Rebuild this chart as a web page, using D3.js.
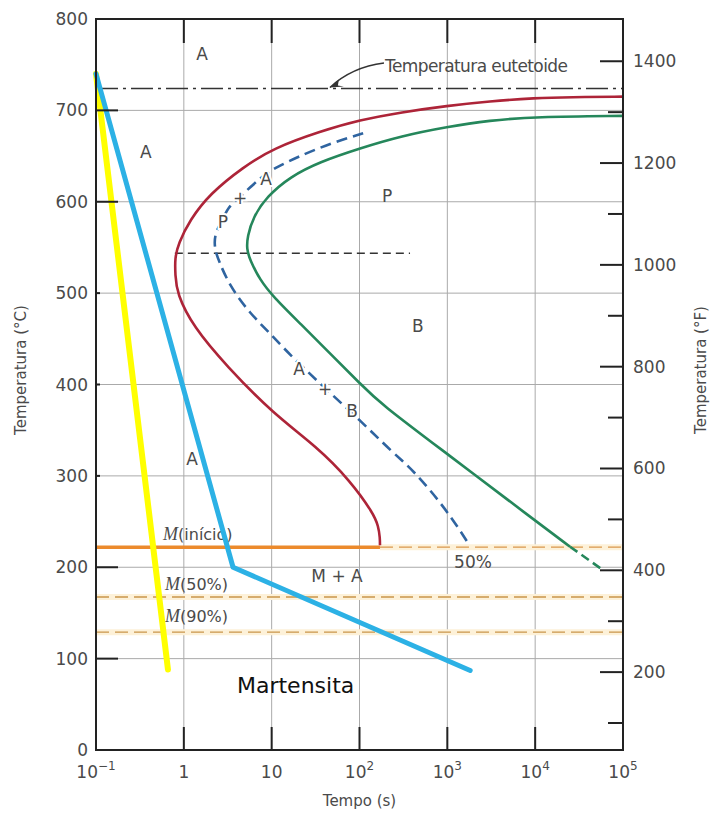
<!DOCTYPE html>
<html>
<head>
<meta charset="utf-8">
<script src="https://cdn.jsdelivr.net/npm/d3@7"></script>
<style>
body { margin: 0; background: #fff; }
text { font-family: "DejaVu Sans", sans-serif; fill: #4a4a4a; }
</style>
</head>
<body>
<svg id="chart" width="711" height="814"></svg>
<script>
// Axis ticks
const xTickExp = [-1, 0, 1, 2, 3, 4, 5];
const yTicksC = [0, 100, 200, 300, 400, 500, 600, 700, 800];
const yTicksLongC = [100, 200, 600, 700];
const yTicksF = [200, 400, 600, 800, 1000, 1200, 1400];
const yMinorF = [100, 300, 500, 700, 900, 1100, 1300];

// Curves: [tempo (s), temperatura (°C)]
const startCurve = [[1e5, 715], [2.5e4, 714.5], [1e4, 713.5], [3e3, 710], [1e3, 705], [300, 698],
  [101, 689.5], [35.5, 677], [10.4, 658.5], [4.75, 638], [1.99, 609], [1.17, 580], [0.865, 554],
  [0.79, 538], [0.8, 520], [0.83, 500], [1.28, 463], [3.08, 420], [10.4, 368], [32.6, 332],
  [78, 295], [144, 259], [164, 245], [171, 232], [171, 224]];
const endCurve = [[1e5, 694], [1e4, 693], [3e3, 689], [1e3, 682], [300, 672], [101, 658.5],
  [35.5, 643.8], [16.2, 627.4], [8.8, 605.5], [6.18, 583.6], [5.28, 561.8], [5.2, 548],
  [5.66, 536.3], [7.36, 514.4], [10.4, 496.1], [21, 467], [50.4, 430.4], [101, 401.3],
  [171, 379.4], [1000, 324], [1e4, 251], [24950, 222.5]];
const endCurveDashed = [[24950, 222.5], [57300, 197.8]];
const halfCurve = [[110, 675], [35.5, 660.2], [10.4, 636.6], [7.36, 625.7], [4.37, 605.5],
  [3.2, 594.6], [2.7, 578.2], [2.26, 565.5], [2.22, 550], [2.47, 536.3], [3.36, 507],
  [5.66, 477.9], [9.57, 456], [15.5, 434.1], [40.5, 395.8], [101, 361.1], [243, 324.7],
  [410, 306.4], [984, 262.7], [1730, 226.2]];

// Reference lines
const eutectoidTemp = 724;
const noseLine = [[0.79, 543.6], [376, 543.6]];
const mStart = 222, m50 = 167.4, m90 = 129;
const mStartEndTime = 171;

// Cooling paths drawn over the diagram
const yellowPath = [[0.1, 740], [0.66, 88]];
const bluePath = [[0.1, 740], [3.63, 200], [1820, 87]];

// Text labels: [texto, tempo, temperatura]
const regionLabels = [["A", 1.61, 755], ["A", 0.37, 648], ["P", 206, 600], ["B", 463, 457.5],
  ["A", 1.24, 312], ["M + A", 55.5, 184], ["50%", 1960, 199]];
const halfLabels = [["A", 8.63, 618.3], ["+", 4.37, 597], ["P", 2.79, 571.3],
  ["A", 20.5, 410.4], ["+", 40.5, 388], ["B", 82.2, 364.4]];
const mLabels = [["(início)", 0.58, 230], ["(50%)", 0.61, 175], ["(90%)", 0.61, 140]];
const martLabel = ["Martensita", 4.03, 62.4];

const svg = d3.select("#chart");
const plotLeft = 96, plotRight = 623, plotTop = 19, plotBottom = 750;

const x = d3.scaleLog().domain([0.1, 1e5]).range([plotLeft, plotRight]);
const y = d3.scaleLinear().domain([0, 800]).range([plotBottom, plotTop]);
const yF = d3.scaleLinear().domain([47, 1483]).range([plotBottom, plotTop]);

const line = d3.line().x(d => x(d[0])).y(d => y(d[1]));
const smooth = d3.line().x(d => x(d[0])).y(d => y(d[1])).curve(d3.curveBasis);

// Grid
svg.append("g").selectAll("line").data(xTickExp.slice(1, -1)).enter().append("line")
  .attr("x1", d => x(Math.pow(10, d))).attr("x2", d => x(Math.pow(10, d)))
  .attr("y1", plotTop).attr("y2", plotBottom).attr("stroke", "#aaa").attr("stroke-width", 1);
svg.append("g").selectAll("line").data(yTicksC.slice(1, -1)).enter().append("line")
  .attr("x1", plotLeft).attr("x2", plotRight).attr("y1", d => y(d)).attr("y2", d => y(d))
  .attr("stroke", "#aaa").attr("stroke-width", 1);

// Eutectoid line
svg.append("line").attr("x1", plotLeft).attr("x2", plotRight)
  .attr("y1", y(eutectoidTemp)).attr("y2", y(eutectoidTemp))
  .attr("stroke", "#333").attr("stroke-width", 1.6).attr("stroke-dasharray", "22,5,3,5");

// Nose dashed line
svg.append("path").attr("d", line(noseLine)).attr("fill", "none")
  .attr("stroke", "#333").attr("stroke-width", 1.6).attr("stroke-dasharray", "8,5");

// Martensite lines
[m50, m90].forEach(t => {
  svg.append("line").attr("x1", plotLeft).attr("x2", plotRight).attr("y1", y(t)).attr("y2", y(t))
    .attr("stroke", "#fdf1d8").attr("stroke-width", 6);
  svg.append("line").attr("x1", plotLeft).attr("x2", plotRight).attr("y1", y(t)).attr("y2", y(t))
    .attr("stroke", "#c9954a").attr("stroke-width", 1.4).attr("stroke-dasharray", "13,6");
});
svg.append("line").attr("x1", x(mStartEndTime)).attr("x2", plotRight).attr("y1", y(mStart)).attr("y2", y(mStart))
  .attr("stroke", "#fdf1d8").attr("stroke-width", 6);
svg.append("line").attr("x1", x(mStartEndTime)).attr("x2", plotRight).attr("y1", y(mStart)).attr("y2", y(mStart))
  .attr("stroke", "#d9974c").attr("stroke-width", 1.4).attr("stroke-dasharray", "13,6");
svg.append("line").attr("x1", plotLeft).attr("x2", x(mStartEndTime)).attr("y1", y(mStart)).attr("y2", y(mStart))
  .attr("stroke", "#ec8a2c").attr("stroke-width", 3.5);

// Transformation curves
svg.append("path").attr("d", smooth(startCurve)).attr("fill", "none")
  .attr("stroke", "#ad2438").attr("stroke-width", 2.6);
svg.append("path").attr("d", smooth(endCurve)).attr("fill", "none")
  .attr("stroke", "#25875b").attr("stroke-width", 2.6);
svg.append("path").attr("d", line(endCurveDashed)).attr("fill", "none")
  .attr("stroke", "#25875b").attr("stroke-width", 2.6).attr("stroke-dasharray", "9,5");
svg.append("path").attr("d", smooth(halfCurve)).attr("fill", "none")
  .attr("stroke", "#2f64a0").attr("stroke-width", 2.6).attr("stroke-dasharray", "11,6");

// Labels on the 50% curve (white halo makes the gaps)
svg.append("g").selectAll("text").data(halfLabels).enter().append("text")
  .attr("x", d => x(d[1])).attr("y", d => y(d[2])).attr("text-anchor", "middle")
  .attr("font-size", 17).attr("stroke", "#fff").attr("stroke-width", 4)
  .attr("paint-order", "stroke").text(d => d[0]);

// Region labels
svg.append("g").selectAll("text").data(regionLabels).enter().append("text")
  .attr("x", d => x(d[1])).attr("y", d => y(d[2])).attr("text-anchor", "middle")
  .attr("font-size", 17).text(d => d[0]);

// M labels
const ml = svg.append("g").selectAll("text").data(mLabels).enter().append("text")
  .attr("x", d => x(d[1])).attr("y", d => y(d[2])).attr("font-size", 16);
ml.append("tspan").attr("font-family", "Liberation Serif, serif").attr("font-style", "italic")
  .attr("font-size", 18).text("M");
ml.append("tspan").text(d => d[0]);

// Annotation for eutectoid temperature
const tip = [x(46), y(eutectoidTemp) - 1];
const tail = [x(190), y(742) - 9];
svg.append("path")
  .attr("d", `M${tail[0]},${tail[1]} Q${tip[0] + 22},${tail[1] + 4} ${tip[0]},${tip[1]}`)
  .attr("fill", "none").attr("stroke", "#333").attr("stroke-width", 1.3);
svg.append("path")
  .attr("d", `M${tip[0]},${tip[1]} l9,-8 l-1,6 l6,1 z`)
  .attr("fill", "#333");
svg.append("text").attr("x", x(195)).attr("y", y(742)).attr("font-size", 17)
  .attr("textLength", 183).text("Temperatura eutetoide");

svg.append("text").attr("x", x(martLabel[1])).attr("y", y(martLabel[2]))
  .attr("font-family", "Open Sans, sans-serif").attr("font-size", 22).style("fill", "#111")
  .text(martLabel[0]);

// Cooling paths
svg.append("path").attr("d", line(yellowPath)).attr("fill", "none")
  .attr("stroke", "#ffff00").attr("stroke-width", 6).attr("stroke-linecap", "round");
svg.append("path").attr("d", line(bluePath)).attr("fill", "none")
  .attr("stroke", "#2cb1e5").attr("stroke-width", 5).attr("stroke-linecap", "round")
  .attr("stroke-linejoin", "round");

// Frame
svg.append("rect").attr("x", plotLeft).attr("y", plotTop)
  .attr("width", plotRight - plotLeft).attr("height", plotBottom - plotTop)
  .attr("fill", "none").attr("stroke", "#222").attr("stroke-width", 2);

// Top/bottom ticks
const inner = xTickExp.slice(1, -1);
svg.append("g").selectAll("line").data(inner).enter().append("line")
  .attr("x1", d => x(Math.pow(10, d))).attr("x2", d => x(Math.pow(10, d)))
  .attr("y1", plotTop).attr("y2", plotTop + 24).attr("stroke", "#222").attr("stroke-width", 2);
svg.append("g").selectAll("line").data(inner).enter().append("line")
  .attr("x1", d => x(Math.pow(10, d))).attr("x2", d => x(Math.pow(10, d)))
  .attr("y1", plotBottom).attr("y2", plotBottom - 23).attr("stroke", "#222").attr("stroke-width", 2);

// Left ticks
svg.append("g").selectAll("line").data(yTicksC.slice(1, -1)).enter().append("line")
  .attr("x1", plotLeft).attr("x2", d => plotLeft + (yTicksLongC.includes(d) ? 22 : 4))
  .attr("y1", d => y(d)).attr("y2", d => y(d)).attr("stroke", "#222").attr("stroke-width", 2);

// Right ticks (°F)
svg.append("g").selectAll("line").data(yTicksF).enter().append("line")
  .attr("x1", plotRight).attr("x2", plotRight - 23).attr("y1", d => yF(d)).attr("y2", d => yF(d))
  .attr("stroke", "#222").attr("stroke-width", 2);
svg.append("g").selectAll("line").data(yMinorF).enter().append("line")
  .attr("x1", plotRight).attr("x2", plotRight - 15).attr("y1", d => yF(d)).attr("y2", d => yF(d))
  .attr("stroke", "#222").attr("stroke-width", 2);

// Tick labels
svg.append("g").selectAll("text").data(yTicksC).enter().append("text")
  .attr("x", plotLeft - 8).attr("y", d => y(d) + 6).attr("text-anchor", "end")
  .attr("font-size", 17).text(d => d);
svg.append("g").selectAll("text").data(yTicksF).enter().append("text")
  .attr("x", plotRight + 10).attr("y", d => yF(d) + 6)
  .attr("font-size", 17).text(d => d);

const xl = svg.append("g").selectAll("text").data(xTickExp).enter().append("text")
  .attr("x", d => x(Math.pow(10, d))).attr("y", plotBottom + 28).attr("text-anchor", "middle")
  .attr("font-size", 17);
xl.append("tspan").text(d => d === 0 ? "1" : "10");
xl.filter(d => d !== 0 && d !== 1).append("tspan").attr("dy", -8).attr("font-size", 12)
  .text(d => d < 0 ? "\u2212" + Math.abs(d) : d);

// Axis titles
svg.append("text").attr("x", x(Math.pow(10, 2))).attr("y", plotBottom + 56).attr("text-anchor", "middle")
  .attr("font-size", 15).text("Tempo (s)");
svg.append("text").attr("transform", "translate(26,370) rotate(-90)")
  .attr("text-anchor", "middle").attr("font-size", 15).text("Temperatura (°C)");
svg.append("text").attr("transform", "translate(706,370) rotate(-90)")
  .attr("text-anchor", "middle").attr("font-size", 15).text("Temperatura (°F)");
</script>
</body>
</html>
